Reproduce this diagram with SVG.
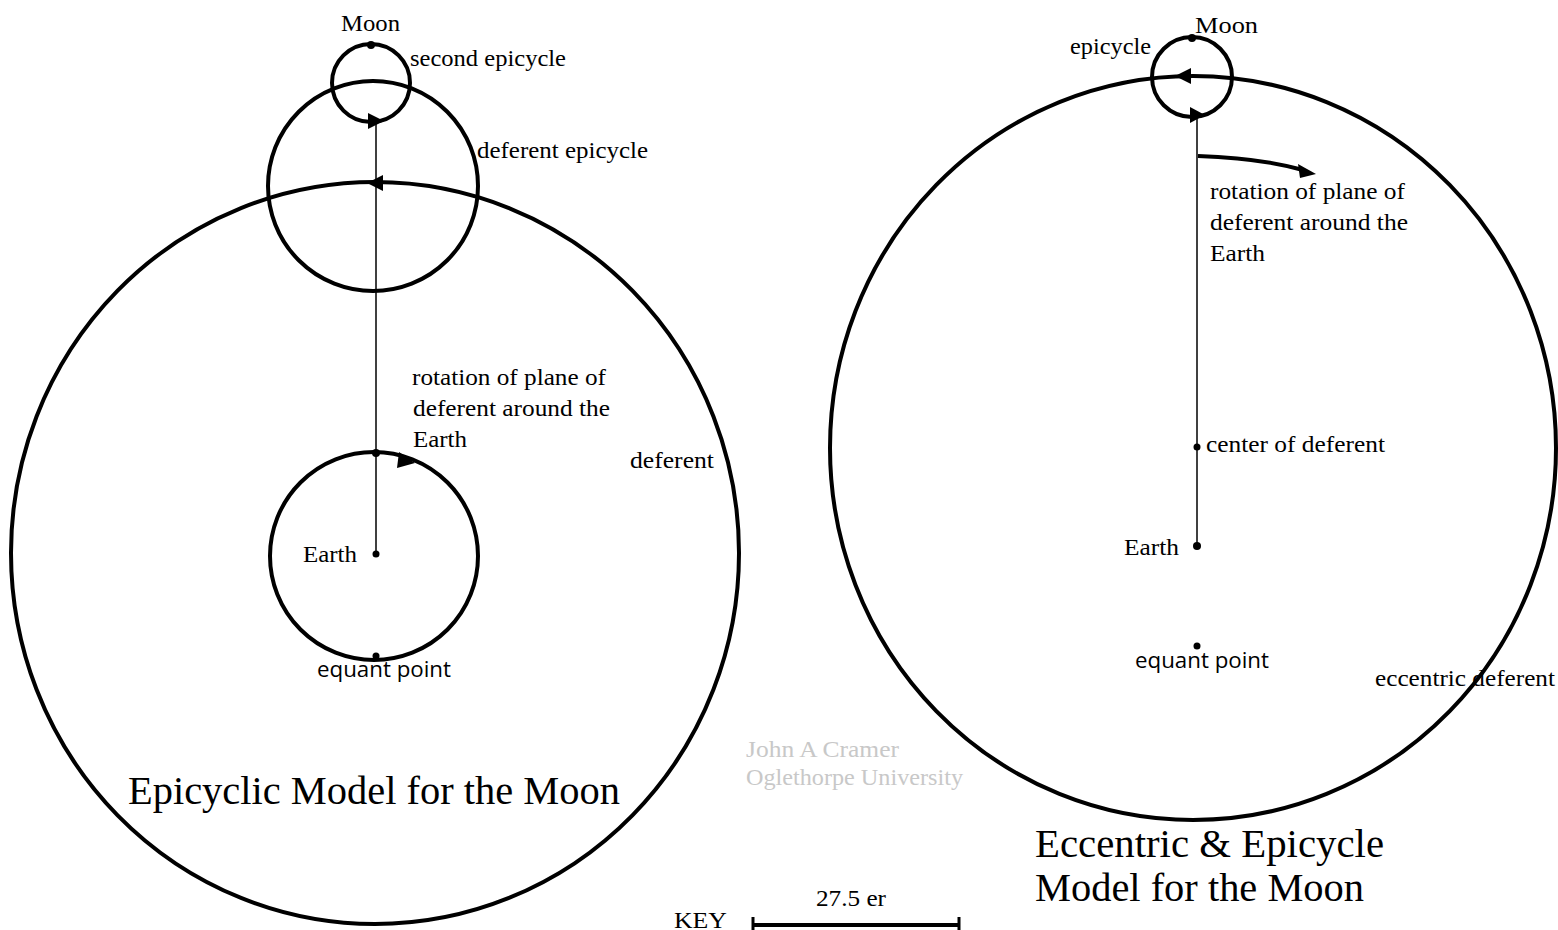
<svg xmlns="http://www.w3.org/2000/svg" width="1558" height="930" viewBox="0 0 1558 930">
<style>
.orbit{fill:none;stroke:#000;stroke-width:4}
.axis{stroke:#000;stroke-width:1.5;fill:none}
.t{font-family:"Liberation Serif","Times New Roman",serif;font-size:23px;fill:#000}
.s{font-family:"Open Sans","Noto Sans",sans-serif;font-size:21px;fill:#000}
.big{font-family:"Liberation Serif","Times New Roman",serif;font-size:39px;fill:#000}
.wm{font-family:"Liberation Serif","Times New Roman",serif;font-size:23px;fill:#c8c8c8}
.dot{fill:#000}
.ah{fill:#000}
</style>
<rect width="1558" height="930" fill="#fff"/>

<g id="left-model">
  <ellipse id="left-deferent" class="orbit" cx="375" cy="553" rx="364" ry="371"/>
  <circle id="left-deferent-epicycle" class="orbit" cx="373" cy="186" r="105"/>
  <circle id="left-second-epicycle" class="orbit" cx="371" cy="83" r="39"/>
  <circle id="left-equant-circle" class="orbit" cx="374" cy="556" r="104"/>
</g>

<g id="connectors">
  <line class="axis" x1="376" y1="121" x2="376" y2="554"/>
  <line class="axis" x1="1197" y1="112" x2="1197" y2="546"/>
  <path d="M1198,156 Q1260,158 1303,170" fill="none" stroke="#000" stroke-width="4"/>
  <polygon class="ah" points="1316,174 1298,164 1300,178"/>
  <polygon class="ah" points="384,121 368,113 368,129"/>
  <polygon class="ah" points="367,183 383,175 383,191"/>
  <polygon class="ah" points="415,463 399,452 397,468"/>
  <polygon class="ah" points="1175,76 1191,68 1191,84"/>
  <polygon class="ah" points="1205,115 1190,107 1190,123"/>
  <line x1="752" y1="925" x2="960" y2="925" stroke="#000" stroke-width="4"/>
  <line x1="753" y1="917" x2="753" y2="930" stroke="#000" stroke-width="3"/>
  <line x1="959" y1="917" x2="959" y2="930" stroke="#000" stroke-width="3"/>
</g>

<g id="left-points">
  <circle class="dot" cx="371" cy="45" r="4"/>
  <circle class="dot" cx="376" cy="453" r="4"/>
  <circle class="dot" cx="376" cy="554" r="3.5"/>
  <circle class="dot" cx="376" cy="656" r="3.5"/>
</g>

<g id="left-labels">
  <text class="t" x="341" y="31" textLength="59" lengthAdjust="spacingAndGlyphs">Moon</text>
  <text class="t" x="410" y="66" textLength="156" lengthAdjust="spacingAndGlyphs">second epicycle</text>
  <text class="t" x="477" y="158" textLength="171" lengthAdjust="spacingAndGlyphs">deferent epicycle</text>
  <text class="t" x="412" y="385" textLength="194" lengthAdjust="spacingAndGlyphs">rotation of plane of</text>
  <text class="t" x="413" y="416" textLength="197" lengthAdjust="spacingAndGlyphs">deferent around the</text>
  <text class="t" x="413" y="447" textLength="54" lengthAdjust="spacingAndGlyphs">Earth</text>
  <text class="t" x="630" y="468" textLength="84" lengthAdjust="spacingAndGlyphs">deferent</text>
  <text class="t" x="303" y="562" textLength="54" lengthAdjust="spacingAndGlyphs">Earth</text>
  <text class="s" x="317" y="677" textLength="134" lengthAdjust="spacingAndGlyphs">equant point</text>
  <text class="big" x="128" y="804" textLength="492" lengthAdjust="spacingAndGlyphs">Epicyclic Model for the Moon</text>
</g>

<g id="right-model">
  <ellipse id="right-deferent" class="orbit" cx="1193" cy="448" rx="363" ry="372"/>
  <circle id="right-epicycle" class="orbit" cx="1192" cy="77" r="40"/>
</g>

<g id="right-points">
  <circle class="dot" cx="1192" cy="38" r="4"/>
  <circle class="dot" cx="1197" cy="447" r="3.5"/>
  <circle class="dot" cx="1197" cy="546" r="4"/>
  <circle class="dot" cx="1197" cy="646" r="3.5"/>
</g>

<g id="right-labels">
  <text class="t" x="1195" y="33" textLength="63" lengthAdjust="spacingAndGlyphs">Moon</text>
  <text class="t" x="1070" y="54" textLength="81" lengthAdjust="spacingAndGlyphs">epicycle</text>
  <text class="t" x="1210" y="199" textLength="195" lengthAdjust="spacingAndGlyphs">rotation of plane of</text>
  <text class="t" x="1210" y="230" textLength="198" lengthAdjust="spacingAndGlyphs">deferent around the</text>
  <text class="t" x="1210" y="261" textLength="55" lengthAdjust="spacingAndGlyphs">Earth</text>
  <text class="t" x="1206" y="452" textLength="179" lengthAdjust="spacingAndGlyphs">center of deferent</text>
  <text class="t" x="1124" y="555" textLength="55" lengthAdjust="spacingAndGlyphs">Earth</text>
  <text class="s" x="1135" y="668" textLength="134" lengthAdjust="spacingAndGlyphs">equant point</text>
  <text class="t" x="1375" y="686" textLength="180" lengthAdjust="spacingAndGlyphs">eccentric deferent</text>
  <text class="big" x="1035" y="857" textLength="349" lengthAdjust="spacingAndGlyphs">Eccentric &amp; Epicycle</text>
  <text class="big" x="1035" y="901" textLength="329" lengthAdjust="spacingAndGlyphs">Model for the Moon</text>
</g>

<g id="credits">
  <text class="wm" x="746" y="757" textLength="153" lengthAdjust="spacingAndGlyphs">John A Cramer</text>
  <text class="wm" x="746" y="785" textLength="217" lengthAdjust="spacingAndGlyphs">Oglethorpe University</text>
  <text class="t" x="816" y="906" textLength="70" lengthAdjust="spacingAndGlyphs">27.5 er</text>
  <text class="t" x="674" y="928" textLength="53" lengthAdjust="spacingAndGlyphs">KEY</text>
</g>
</svg>
